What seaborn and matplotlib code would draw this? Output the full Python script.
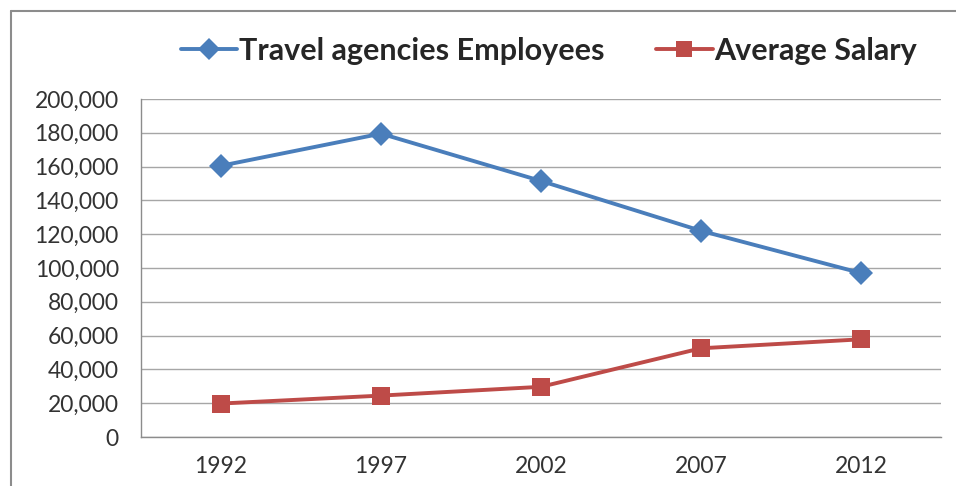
import matplotlib
matplotlib.use("Agg")
import matplotlib.pyplot as plt
import seaborn as sns
import pandas as pd
from matplotlib.lines import Line2D
from matplotlib.ticker import FuncFormatter, MultipleLocator

years = ["1992", "1997", "2002", "2007", "2012"]
employees = [160500, 179500, 151500, 122000, 97000]
salary = [19800, 24500, 29700, 52500, 57800]
series_names = ["Travel agencies Employees", "Average Salary"]
colors = ["#4A7EBB", "#BE4B48"]

df = pd.DataFrame({
    "year": years * 2,
    "value": employees + salary,
    "series": [series_names[0]] * len(years) + [series_names[1]] * len(years),
})
df["x"] = df["year"].map({y: i for i, y in enumerate(years)})

sns.set_theme(style="white")
plt.rcParams["font.family"] = ["Lato", "DejaVu Sans"]

fig = plt.figure(figsize=(9.56, 4.86), dpi=100)
ax = fig.add_axes([141 / 956, 1 - 437 / 486, 800 / 956, 338 / 486])

sns.lineplot(data=df[df["series"] == series_names[0]], x="x", y="value",
             color=colors[0], marker="D", markersize=12.5, markeredgewidth=0,
             linewidth=2.8, legend=False, ax=ax)
sns.lineplot(data=df[df["series"] == series_names[1]], x="x", y="value",
             color=colors[1], marker="s", markersize=13, markeredgewidth=0,
             linewidth=2.8, legend=False, ax=ax)

ax.set_xlim(-0.5, len(years) - 0.5)
ax.set_ylim(0, 200000)
ax.yaxis.set_major_locator(MultipleLocator(20000))
ax.yaxis.set_major_formatter(FuncFormatter(lambda v, p: f"{int(v):,}"))
ax.set_xticks(range(len(years)))
ax.set_xticklabels(years)
ax.set_xticks([i + 0.5 for i in range(-1, len(years))], minor=True)
ax.tick_params(axis="x", which="major", length=0, pad=14, labelsize=16.5, labelcolor="#333333")
ax.tick_params(axis="x", which="minor", length=5, width=1, color="#8c8c8c", direction="out")
ax.tick_params(axis="y", which="major", length=7, width=1, color="#a6a6a6", labelsize=16.5,
               labelcolor="#333333", pad=9)
ax.set_xlabel("")
ax.set_ylabel("")
ax.grid(axis="y", color="#a6a6a6", linewidth=1)
ax.set_axisbelow(True)
for s in ["top", "right"]:
    ax.spines[s].set_visible(False)
for s in ["left", "bottom"]:
    ax.spines[s].set_color("#8c8c8c")
    ax.spines[s].set_linewidth(1)

handles = [
    Line2D([], [], color=colors[0], marker="D", markersize=11, linewidth=2.8, markeredgewidth=0),
    Line2D([], [], color=colors[1], marker="s", markersize=12, linewidth=2.8, markeredgewidth=0),
]
fig.legend(handles, series_names, loc="center", bbox_to_anchor=(0.574, 1 - 51 / 486),
           ncol=2, frameon=False, handlelength=1.85, handletextpad=0.05, columnspacing=1.7,
           prop={"family": "Lato", "weight": "bold", "size": 22})

# chart border (top & left visible)
fig.add_artist(Line2D([11 / 956, 11 / 956], [0, 1 - 11 / 486], transform=fig.transFigure,
                      color="#8c8c8c", linewidth=1.5))
fig.add_artist(Line2D([11 / 956, 1], [1 - 11 / 486, 1 - 11 / 486], transform=fig.transFigure,
                      color="#8c8c8c", linewidth=1.5))

fig.savefig("out.png", dpi=100)
